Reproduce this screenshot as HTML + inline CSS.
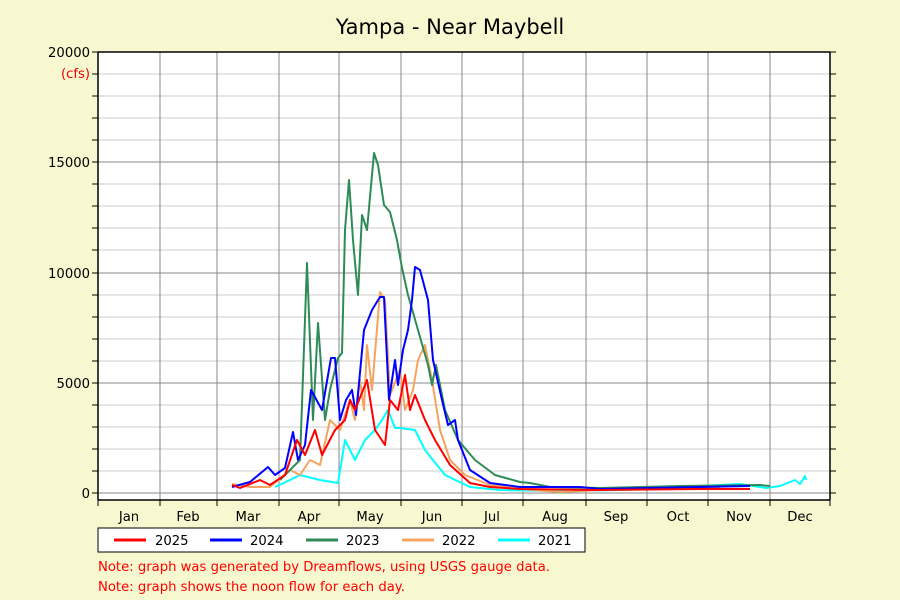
<!DOCTYPE html>
<html><head><style>
body{margin:0;background:#f8f8d0;}
svg{display:block;font-family:"DejaVu Sans","Liberation Sans",sans-serif;}
</style></head><body>
<svg width="900" height="600" viewBox="0 0 900 600">
<rect width="900" height="600" fill="#f8f8d0"/>
<text x="450" y="34" font-size="21" text-anchor="middle" fill="#000">Yampa - Near Maybell</text>
<rect x="98" y="52" width="732" height="448" fill="#fff"/>
<g stroke="#ccc" stroke-width="1">
<line x1="98" x2="830" y1="74" y2="74"/><line x1="98" x2="830" y1="96" y2="96"/><line x1="98" x2="830" y1="118" y2="118"/><line x1="98" x2="830" y1="140" y2="140"/>
<line x1="98" x2="830" y1="184" y2="184"/><line x1="98" x2="830" y1="206" y2="206"/><line x1="98" x2="830" y1="228" y2="228"/><line x1="98" x2="830" y1="250" y2="250"/>
<line x1="98" x2="830" y1="295" y2="295"/><line x1="98" x2="830" y1="317" y2="317"/><line x1="98" x2="830" y1="339" y2="339"/><line x1="98" x2="830" y1="361" y2="361"/>
<line x1="98" x2="830" y1="405" y2="405"/><line x1="98" x2="830" y1="427" y2="427"/><line x1="98" x2="830" y1="449" y2="449"/><line x1="98" x2="830" y1="471" y2="471"/>
</g>
<g stroke="#888" stroke-width="1">
<line x1="98" x2="830" y1="162" y2="162"/><line x1="98" x2="830" y1="273" y2="273"/><line x1="98" x2="830" y1="383" y2="383"/><line x1="98" x2="830" y1="493" y2="493"/>
<line x1="160" x2="160" y1="52" y2="500"/><line x1="217" x2="217" y1="52" y2="500"/><line x1="279" x2="279" y1="52" y2="500"/><line x1="339" x2="339" y1="52" y2="500"/><line x1="401" x2="401" y1="52" y2="500"/><line x1="462" x2="462" y1="52" y2="500"/><line x1="523" x2="523" y1="52" y2="500"/><line x1="586" x2="586" y1="52" y2="500"/><line x1="647" x2="647" y1="52" y2="500"/><line x1="708" x2="708" y1="52" y2="500"/><line x1="770" x2="770" y1="52" y2="500"/>
</g>
<g stroke="#000" stroke-width="1.5" fill="none">
<line x1="98" y1="52" x2="830" y2="52"/><line x1="98" y1="52" x2="98" y2="500"/><line x1="98" y1="500" x2="830" y2="500"/><line x1="830" y1="52" x2="830" y2="500"/>
</g>
<g stroke="#000" stroke-width="1">
<path d="M92 52h6M92 74h6M92 96h6M92 118h6M92 140h6M92 162h6M92 184h6M92 206h6M92 228h6M92 250h6M92 273h6M92 295h6M92 317h6M92 339h6M92 361h6M92 383h6M92 405h6M92 427h6M92 449h6M92 471h6M92 493h6"/>
<path d="M830 52h6M830 74h6M830 96h6M830 118h6M830 140h6M830 162h6M830 184h6M830 206h6M830 228h6M830 250h6M830 273h6M830 295h6M830 317h6M830 339h6M830 361h6M830 383h6M830 405h6M830 427h6M830 449h6M830 471h6M830 493h6"/>
<path d="M98 500v6M160 500v6M217 500v6M279 500v6M339 500v6M401 500v6M462 500v6M523 500v6M586 500v6M647 500v6M708 500v6M770 500v6M830 500v6"/>
</g>
<g font-size="13.2" fill="#000" text-anchor="end">
<text x="90" y="57">20000</text><text x="90" y="167">15000</text><text x="90" y="278">10000</text><text x="90" y="388">5000</text><text x="90" y="498">0</text>
</g>
<text x="90" y="78" font-size="13.2" fill="#e00" text-anchor="end">(cfs)</text>
<g font-size="13.2" fill="#000" text-anchor="middle">
<text x="129" y="521">Jan</text><text x="188" y="521">Feb</text><text x="248" y="521">Mar</text><text x="309" y="521">Apr</text><text x="370" y="521">May</text><text x="432" y="521">Jun</text><text x="492" y="521">Jul</text><text x="555" y="521">Aug</text><text x="616" y="521">Sep</text><text x="678" y="521">Oct</text><text x="739" y="521">Nov</text><text x="800" y="521">Dec</text>
</g>
<g fill="none" stroke-width="2" stroke-linejoin="round">
<polyline stroke="#00ffff" points="275,487 290,480 300,475 320,480 338,483 345,440 355,460 365,440 375,430 382,420 388,410 395,428 400,428 415,430 425,450 445,475 470,487 500,490 560,491 620,490 700,486 740,484 766,488 780,486 795,480 800,484 805,476 806,480"/>
<polyline stroke="#f4a460" points="232,484 250,487 270,487 290,470 300,475 310,460 320,465 330,420 340,430 350,400 355,420 360,380 364,410 367,345 372,390 380,292 385,300 390,395 400,370 405,410 413,390 418,360 425,345 432,380 440,430 450,460 465,475 490,485 520,489 560,492 640,488 700,487 720,488"/>
<polyline stroke="#2e8b57" points="280,480 300,460 307,263 313,420 318,323 325,420 330,390 338,358 342,353 345,230 349,180 353,240 358,295 362,215 367,230 374,153 378,165 384,205 390,212 397,240 402,268 408,295 418,330 428,365 432,385 436,365 445,410 458,440 475,460 495,475 520,482 530,483 550,487 600,488 680,486 760,485 770,486"/>
<polyline stroke="#0000ff" points="232,487 250,482 268,467 275,475 285,468 293,432 298,460 305,445 311,390 322,410 331,358 335,358 340,420 346,400 352,390 356,415 364,330 372,310 380,297 384,297 389,400 395,360 398,385 403,350 408,330 412,300 415,267 420,270 428,300 433,360 442,400 448,425 455,420 458,440 470,470 490,483 520,487 580,487 600,489 700,487 750,486"/>
<polyline stroke="#ff0000" points="232,485 240,488 260,480 270,485 285,475 297,440 305,455 315,430 322,455 335,430 345,420 350,400 355,410 367,380 375,430 385,445 390,400 398,410 405,375 410,410 415,395 425,420 435,440 450,465 470,483 490,487 520,489 600,490 700,489 750,489"/>
</g>
<rect x="98" y="528" width="487" height="24" fill="#fff" stroke="#000" stroke-width="1"/>
<g stroke-width="3">
<line x1="114" x2="146" y1="540" y2="540" stroke="#ff0000"/>
<line x1="210" x2="242" y1="540" y2="540" stroke="#0000ff"/>
<line x1="306" x2="338" y1="540" y2="540" stroke="#2e8b57"/>
<line x1="402" x2="434" y1="540" y2="540" stroke="#f4a460"/>
<line x1="498" x2="530" y1="540" y2="540" stroke="#00ffff"/>
</g>
<g font-size="13.2" fill="#000">
<text x="155" y="545">2025</text><text x="250" y="545">2024</text><text x="346" y="545">2023</text><text x="442" y="545">2022</text><text x="538" y="545">2021</text>
</g>
<g font-size="13.2" fill="#ff0000">
<text x="98" y="571">Note: graph was generated by Dreamflows, using USGS gauge data.</text>
<text x="98" y="591">Note: graph shows the noon flow for each day.</text>
</g>
</svg>
</body></html>
